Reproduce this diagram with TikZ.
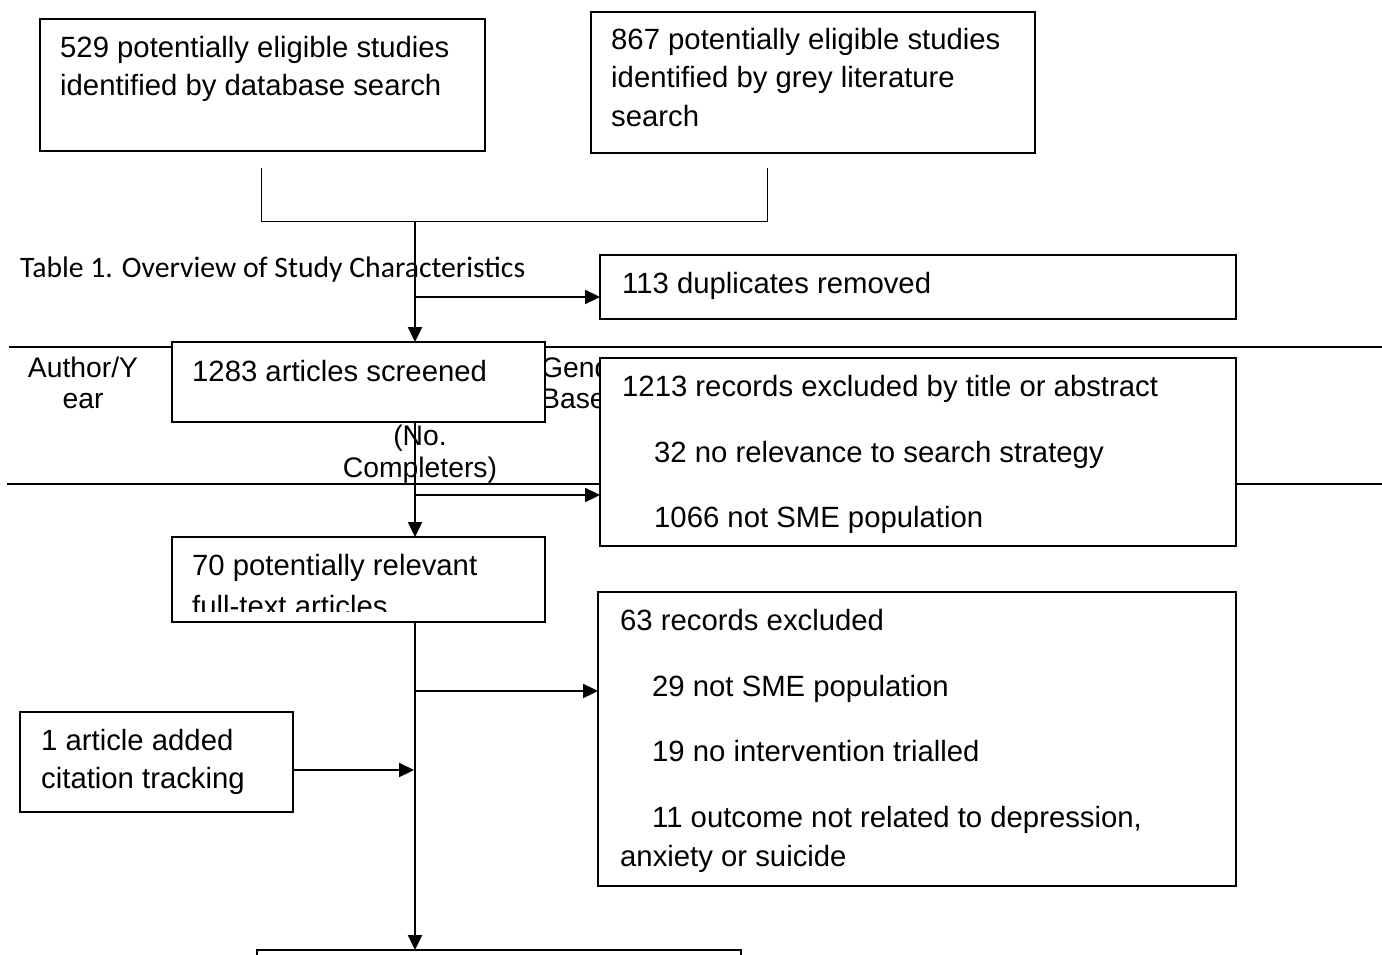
\documentclass[tikz,border=0pt]{standalone}
\usepackage{fontspec}
\setmainfont{Liberation Sans}
\newfontfamily\calib{Carlito}
\usetikzlibrary{arrows.meta}
\begin{document}
\begin{tikzpicture}[x=1pt,y=-1pt,
  box/.style={draw=black, line width=1.7pt, fill=white, inner sep=0pt, outer sep=0pt, anchor=north west},
  txt/.style={anchor=base west, inner sep=0pt, font=\fontsize{29.3}{38}\selectfont},
  hdr/.style={anchor=base, inner sep=0pt, font=\fontsize{28.3}{32}\selectfont},
  hdrl/.style={anchor=base west, inner sep=0pt, font=\fontsize{28.3}{32}\selectfont},
  thinline/.style={line width=1pt},
  flow/.style={line width=2.3pt, -{Triangle[length=15pt,width=14pt]}},
  rule/.style={line width=2pt}]
\useasboundingbox (0,0) rectangle (1382,955);
\clip (0,0) rectangle (1382,955);
\fill[white] (0,0) rectangle (1382,955);

% background table fragments
\node[anchor=base west, inner sep=0pt, font=\calib\fontsize{29.7}{36}\selectfont] (title) at (20,277) {Table 1. Overview of Study Characteristics};
\draw[rule] (9,347) -- (1382,347);
\draw[rule] (7,484) -- (1382,484);
\node[hdr] (h1a) at (83,377) {Author/Y};
\node[hdr] (h1b) at (83,408) {ear};
\begin{scope}
\clip (546,350) rectangle (599,420);
\node[hdrl] (h2a) at (541,377) {Gend};
\node[hdrl] (h2b) at (541,408) {Base};
\end{scope}
\node[hdr] (h3a) at (420,445) {(No.};
\node[hdr] (h3b) at (420,477) {Completers)};

% boxes
\node[box, minimum width=445pt, minimum height=132pt] (db) at (40,19) {};
\node[box, minimum width=444pt, minimum height=141pt] (grey) at (591,12) {};
\node[box, minimum width=636pt, minimum height=64pt] (dup) at (600,255) {};
\node[box, minimum width=373pt, minimum height=80pt] (screen) at (172,342) {};
\node[box, minimum width=636pt, minimum height=188pt] (excl1) at (600,358) {};
\node[box, minimum width=373pt, minimum height=85pt] (relevant) at (172,537) {};
\node[box, minimum width=638pt, minimum height=294pt] (excl2) at (598,592) {};
\node[box, minimum width=273pt, minimum height=100pt] (added) at (20,712) {};
\node[box, minimum width=484pt, minimum height=60pt] (final) at (257,950) {};

% box texts
\node[txt] (t1) at (60,58) {529 potentially eligible studies};
\node[txt] (t2) at (60,96) {identified by database search};
\node[txt] (t3) at (611,50) {867 potentially eligible studies};
\node[txt] (t4) at (611,88) {identified by grey literature};
\node[txt] (t5) at (611,127) {search};
\node[txt] (t6) at (622,293) {113 duplicates removed};
\node[txt] (t7) at (192,381) {1283 articles screened};
\node[txt] (t8) at (622,396) {1213 records excluded by title or abstract};
\node[txt] (t9) at (654,462) {32 no relevance to search strategy};
\node[txt] (t10) at (654,527) {1066 not SME population};
\node[txt] (t11) at (192,575) {70 potentially relevant};
\begin{scope}
\clip (172,537) rectangle (545,611);
\node[txt] (t12) at (192,616) {full-text articles};
\end{scope}
\node[txt] (t13) at (620,630) {63 records excluded};
\node[txt] (t14) at (652,696) {29 not SME population};
\node[txt] (t15) at (652,761) {19 no intervention trialled};
\node[txt] (t16) at (652,827) {11 outcome not related to depression,};
\node[txt] (t17) at (620,866) {anxiety or suicide};
\node[txt] (t18) at (41,750) {1 article added};
\node[txt] (t19) at (41,788) {citation tracking};

% connectors
\coordinate (la) at (261,168);
\coordinate (lb) at (767,168);
\coordinate (join) at (415,221);
\draw[thinline] (la) -- (la |- join) -- (lb |- join) -- (lb);
\draw[flow] (join) -- (join |- screen.north);
\coordinate (b1) at (415,297);
\draw[flow] (b1) -- (b1 -| dup.west);
\draw[flow] (join |- screen.south) -- (join |- relevant.north);
\coordinate (b2) at (415,495);
\draw[flow] (b2) -- (b2 -| excl1.west);
\draw[flow] (join |- relevant.south) -- (join |- final.north);
\coordinate (b3) at (415,691);
\draw[flow] (b3) -- (b3 -| excl2.west);
\coordinate (b4) at (414,770);
\draw[flow] (added.east |- b4) -- (b4);
\end{tikzpicture}
\end{document}
